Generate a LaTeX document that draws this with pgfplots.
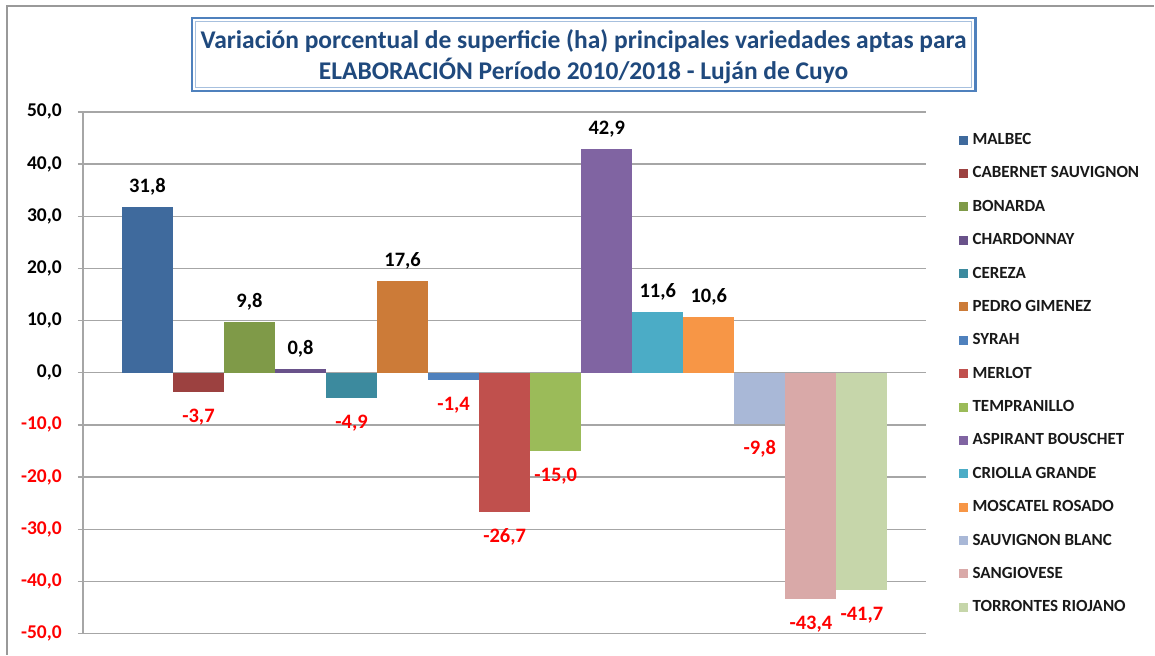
\documentclass[border=0pt]{standalone}
\usepackage{fontspec}
\setmainfont{Carlito}
\usepackage{pgfplots}
\pgfplotsset{compat=1.18}
\definecolor{c1}{HTML}{3F6A9D}
\definecolor{c2}{HTML}{9C4140}
\definecolor{c3}{HTML}{7F9A48}
\definecolor{c4}{HTML}{69528A}
\definecolor{c5}{HTML}{3C8A9E}
\definecolor{c6}{HTML}{CC7B38}
\definecolor{c7}{HTML}{4F81BD}
\definecolor{c8}{HTML}{C0504D}
\definecolor{c9}{HTML}{9BBB59}
\definecolor{c10}{HTML}{8064A2}
\definecolor{c11}{HTML}{4BACC6}
\definecolor{c12}{HTML}{F79646}
\definecolor{c13}{HTML}{A9B8D7}
\definecolor{c14}{HTML}{D9A9A8}
\definecolor{c15}{HTML}{C6D6AA}
\definecolor{titleblue}{HTML}{1F497D}
\definecolor{boxblue}{HTML}{4F81BD}
\definecolor{gridgray}{HTML}{A6A6A6}
\pgfplotsset{
  b/.style={fill=#1, draw=none, bar shift=0pt, bar width=1,
    legend image code/.code={\fill[#1] (0pt,-4.5pt) rectangle (9pt,4.5pt);}},
  pos/.style={b=#1, every node near coord/.append style={text=black, anchor=base, yshift=14.5pt}},
  neg/.style={b=#1, every node near coord/.append style={text=red, anchor=base, yshift=-30.5pt}},
}
\begin{document}
\begin{tikzpicture}[x=1pt,y=1pt]
\fill[white] (0,0) rectangle (1155,655);
\draw[gray!80, line width=1.5pt] (7,0) -- (7,649) -- (1155,649);
% title box
\draw[boxblue, line width=2.5pt] (192,564) rectangle (976,637);
\draw[boxblue!50, line width=1pt] (195.5,567.5) rectangle (972.5,633.5);
\node[align=center, text=titleblue, font=\bfseries\fontsize{25.5}{31}\selectfont] at (584,598)
  {Variación porcentual de superficie (ha) principales variedades aptas para\\ELABORACIÓN Período 2010/2018 - Luján de Cuyo};
\begin{axis}[
  at={(83pt,21pt)}, anchor=south west, scale only axis,
  width=844pt, height=522pt,
  xmin=-1.264, xmax=15.264, ymin=-50, ymax=50,
  ybar,
  axis lines*=left,
  axis line style={gridgray, line width=1.2pt},
  xtick=\empty,
  ytick={-50,-40,-30,-20,-10,0,10,20,30,40,50},
  yticklabels={{\textcolor{red}{-50,0}},{\textcolor{red}{-40,0}},{\textcolor{red}{-30,0}},{\textcolor{red}{-20,0}},{\textcolor{red}{-10,0}},{0,0},{10,0},{20,0},{30,0},{40,0},{50,0}},
  yticklabel style={font=\bfseries\fontsize{19.5}{22}\selectfont, inner sep=0pt, anchor=east, xshift=-16pt},
  tick align=outside, major tick length=5pt,
  tick style={gridgray, line width=1.2pt},
  ymajorgrids, grid style={gridgray, line width=1.2pt},
  nodes near coords={\pgfmathprintnumber[fixed, fixed zerofill, precision=1, use comma, assume math mode=true]{\pgfplotspointmeta}},
  every node near coord/.append style={font=\bfseries\fontsize{20.5}{24}\selectfont, inner sep=0pt},
  clip=false,
  legend cell align=left,
  legend style={at={(1.0379,0.9608)}, anchor=north west, draw=none, fill=none, inner sep=0pt,
    font=\bfseries\fontsize{17}{20}\selectfont, text=black!90,
    row sep=18.4pt,
    nodes={inner sep=0pt, text height=12pt, text depth=3pt},
    /tikz/every odd column/.append style={column sep=5pt}},
]
\addplot[pos=c1] coordinates {(0,31.8)};
\addplot[neg=c2] coordinates {(1,-3.7)};
\addplot[pos=c3] coordinates {(2,9.8)};
\addplot[pos=c4] coordinates {(3,0.8)};
\addplot[neg=c5] coordinates {(4,-4.9)};
\addplot[pos=c6] coordinates {(5,17.6)};
\addplot[neg=c7] coordinates {(6,-1.4)};
\addplot[neg=c8] coordinates {(7,-26.7)};
\addplot[neg=c9] coordinates {(8,-15.0)};
\addplot[pos=c10] coordinates {(9,42.9)};
\addplot[pos=c11] coordinates {(10,11.6)};
\addplot[pos=c12] coordinates {(11,10.6)};
\addplot[neg=c13] coordinates {(12,-9.8)};
\addplot[neg=c14] coordinates {(13,-43.4)};
\addplot[neg=c15] coordinates {(14,-41.7)};
\legend{MALBEC,CABERNET SAUVIGNON,BONARDA,CHARDONNAY,CEREZA,PEDRO GIMENEZ,SYRAH,MERLOT,TEMPRANILLO,ASPIRANT BOUSCHET,CRIOLLA GRANDE,MOSCATEL ROSADO,SAUVIGNON BLANC,SANGIOVESE,TORRONTES RIOJANO}
\end{axis}
\end{tikzpicture}
\end{document}
